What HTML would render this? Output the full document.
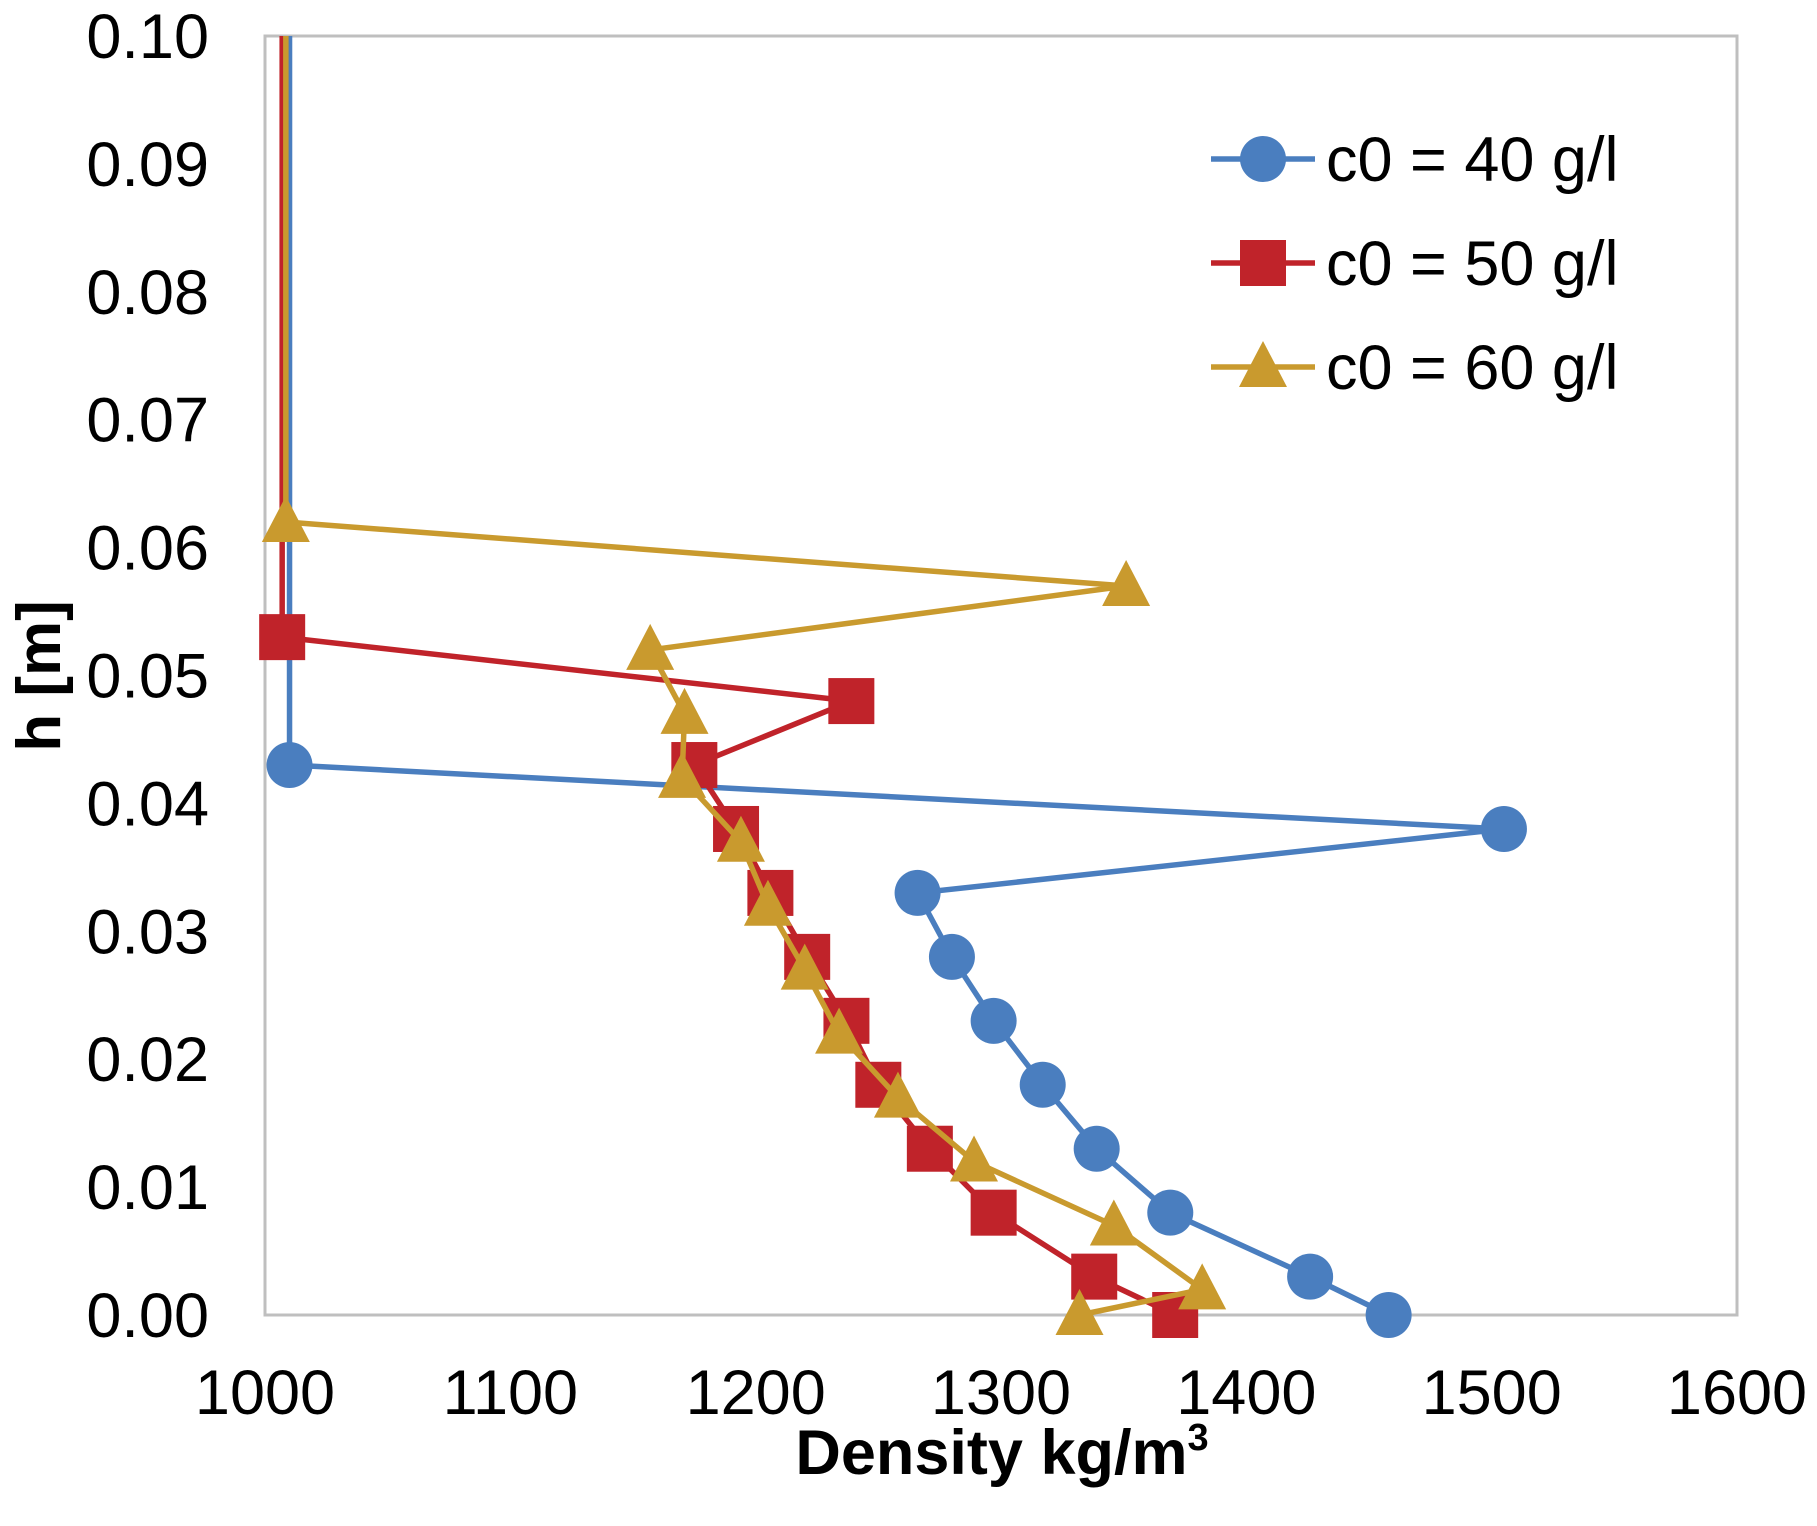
<!DOCTYPE html>
<html><head><meta charset="utf-8"><style>
html,body{margin:0;padding:0;background:#fff;}
svg{display:block;font-family:"Liberation Sans",Arial,sans-serif;}
</style></head><body>
<svg id="chart" width="1817" height="1526" viewBox="0 0 1817 1526" xmlns="http://www.w3.org/2000/svg">
<rect x="265" y="36" width="1472" height="1279" fill="#fff" stroke="#bfbfbf" stroke-width="3"/>
<g id="axes"></g>
<g id="series"></g>
<g id="legend"></g>
<text x="1002" y="1474" font-size="63" font-weight="bold" text-anchor="middle">Density kg/m<tspan font-size="38" dy="-24">3</tspan></text>
<text transform="translate(60,676) rotate(-90)" font-size="62" font-weight="bold" text-anchor="middle">h [m]</text>
</svg>
<script>
const xTicks = [1000, 1100, 1200, 1300, 1400, 1500, 1600];
const yTicks = [0, 0.01, 0.02, 0.03, 0.04, 0.05, 0.06, 0.07, 0.08, 0.09, 0.10];
const seriesNames = ["c0 = 40 g/l", "c0 = 50 g/l", "c0 = 60 g/l"];
const h40 = [0.10, 0.043, 0.038, 0.033, 0.028, 0.023, 0.018, 0.013, 0.008, 0.003, 0.0];
const d40 = [1010, 1010, 1505, 1266, 1280, 1297, 1317, 1339, 1369, 1426, 1458];
const h50 = [0.10, 0.053, 0.048, 0.043, 0.038, 0.033, 0.028, 0.023, 0.018, 0.013, 0.008, 0.003, 0.0];
const d50 = [1007, 1007, 1239, 1175, 1192, 1206, 1221, 1237, 1250, 1271, 1297, 1338, 1371];
const h60 = [0.10, 0.062, 0.057, 0.052, 0.047, 0.042, 0.037, 0.032, 0.027, 0.022, 0.017, 0.012, 0.007, 0.002, 0.0];
const d60 = [1008.5, 1008.5, 1351, 1157, 1171, 1170, 1194, 1205, 1220, 1234, 1258, 1289, 1346, 1382, 1332];

const NS = "http://www.w3.org/2000/svg";
const X0 = 265, X1 = 1737, Y0 = 1315, Y1 = 36;
const xMin = 1000, xMax = 1600, yMin = 0, yMax = 0.10;
function xs(v){ return X0 + (v - xMin) / (xMax - xMin) * (X1 - X0); }
function ys(v){ return Y0 - (v - yMin) / (yMax - yMin) * (Y0 - Y1); }
function mk(tag, attrs, parent){ const e = document.createElementNS(NS, tag); for (const k in attrs) e.setAttribute(k, attrs[k]); parent.appendChild(e); return e; }

const axes = document.getElementById('axes');
xTicks.forEach(t => {
  const e = mk('text', {x: xs(t), y: 1414, 'font-size': 63, 'text-anchor': 'middle'}, axes);
  e.textContent = t;
  
  
});
yTicks.forEach(t => {
  const e = mk('text', {x: 209, y: ys(t) + 22, 'font-size': 63, 'text-anchor': 'end'}, axes);
  e.textContent = t.toFixed(2);
  
  
});

const colors = ["#4a7ebf", "#c0232a", "#c99a2e"];
function marker(type, cx, cy, color, parent){
  let e;
  if (type === 0) e = mk('circle', {cx: cx, cy: cy, r: 23, fill: color}, parent);
  else if (type === 1) e = mk('rect', {x: cx - 23, y: cy - 23, width: 46, height: 46, fill: color}, parent);
  else e = mk('polygon', {points: `${cx},${cy-26} ${cx+24},${cy+20} ${cx-24},${cy+20}`, fill: color}, parent);
  return e;
}
const sg = document.getElementById('series');
const all = [[d40, h40], [d50, h50], [d60, h60]];
all.forEach((s, i) => {
  const g = mk('g', {}, sg);
  
  
  const pts = s[0].map((d, j) => xs(d) + ',' + ys(s[1][j])).join(' ');
  const pl = mk('polyline', {points: pts, fill: 'none', stroke: colors[i], 'stroke-width': 5.5, 'stroke-linejoin': 'round'}, g);
  
  
  s[0].forEach((d, j) => {
    if (j === 0) return;
    const m = marker(i, xs(d), ys(s[1][j]), colors[i], g);
    
    
  });
});

const lg = document.getElementById('legend');


seriesNames.forEach((n, i) => {
  const y = 159 + i * 104;
  const g = mk('g', {}, lg);
  
  
  mk('line', {x1: 1211, x2: 1315, y1: y, y2: y, stroke: colors[i], 'stroke-width': 5.5}, g);
  marker(i, 1263, y, colors[i], g);
  const t = mk('text', {x: 1326, y: y + 22, 'font-size': 63}, g);
  t.textContent = n;
});
</script>
</body></html>
